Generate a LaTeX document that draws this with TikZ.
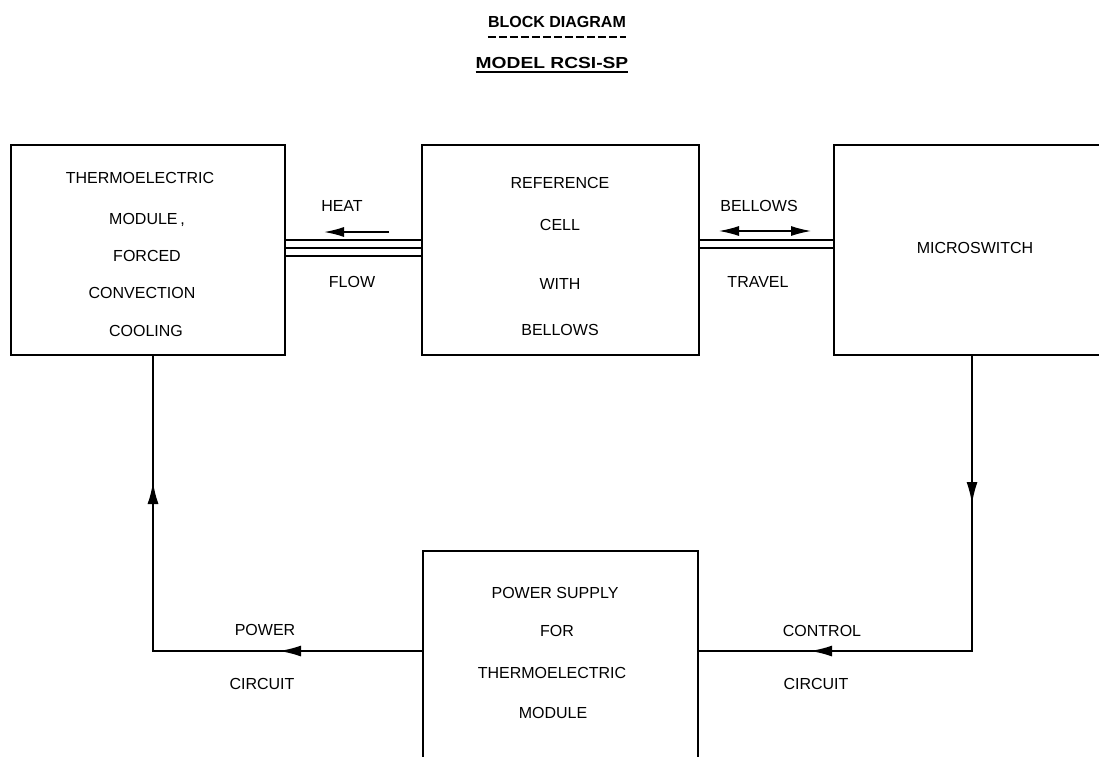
\documentclass[tikz,border=0pt]{standalone}
\usepackage{fontspec}
\usepackage{graphicx}
\setmainfont{Liberation Sans}
\usetikzlibrary{arrows.meta,decorations.markings}
\begin{document}
\begin{tikzpicture}[x=1pt,y=-1pt,
  box/.style={draw,line width=2pt,inner sep=0pt},
  txt/.style={inner sep=0pt,text height=11.5pt,text depth=0pt,font=\fontsize{16}{16}\selectfont},
  ttl/.style={inner sep=0pt,text height=11.5pt,text depth=0pt,font=\bfseries\fontsize{16}{16}\selectfont},
  conn/.style={line width=2pt},
  pipe/.style={line width=1.5pt},
  lat/.tip={Latex[length=22pt,width=11pt]},
  sml/.tip={Latex[length=20pt,width=10pt]}]
\useasboundingbox (0,0) rectangle (1099,756);
\clip (0,0) rectangle (1099,756);

% title
\node[ttl] (title) at (557,22) {BLOCK DIAGRAM};
\draw[line width=2pt,dash pattern=on 8pt off 3pt] ([yshift=-9pt]title.south west) -- ([yshift=-9pt]title.south east);
\node[ttl] (model) at (552,62.5) {\scalebox{1.2}[1]{MODEL RCSI-SP}};
\draw[line width=2pt] ([yshift=-4pt]model.south west) -- ([yshift=-4pt]model.south east);

% boxes
\node[box,minimum width=274pt,minimum height=210pt] (tm) at (148,250) {};
\node[box,minimum width=277pt,minimum height=210pt] (ref) at (560.5,250) {};
\node[box,minimum width=278pt,minimum height=210pt] (ms) at (973,250) {};
\node[box,minimum width=275pt,minimum height=250pt] (ps) at (560.5,676) {};

% box texts
\node[txt] (tm1) at (140,178) {THERMOELECTRIC};
\node[txt] (tm2) at (147,219) {MODULE\,,};
\node[txt] (tm3) at (147,256) {FORCED};
\node[txt] (tm4) at (142,293) {CONVECTION};
\node[txt] (tm5) at (146,331) {COOLING};

\node[txt] (rf1) at (560,183) {REFERENCE};
\node[txt] (rf2) at (560,225) {CELL};
\node[txt] (rf3) at (560,284) {WITH};
\node[txt] (rf4) at (560,330) {BELLOWS};

\node[txt] (ms1) at (975,248) {MICROSWITCH};

\node[txt] (ps1) at (555,593) {POWER SUPPLY};
\node[txt] (ps2) at (557,631) {FOR};
\node[txt] (ps3) at (552,673) {THERMOELECTRIC};
\node[txt] (ps4) at (553,713) {MODULE};

% connector labels
\node[txt] (lh) at (342,206) {HEAT};
\node[txt] (lf) at (352,282) {FLOW};
\node[txt] (lb) at (759,206) {BELLOWS};
\node[txt] (lt) at (758,282) {TRAVEL};
\node[txt] (lp) at (265,630) {POWER};
\node[txt] (lc1) at (262,684) {CIRCUIT};
\node[txt] (lc) at (822,631) {CONTROL};
\node[txt] (lc2) at (816,684) {CIRCUIT};

% heat flow pipe (three lines)
\foreach \s in {10,2,-6}
  \draw[pipe] ([yshift=\s pt]tm.east) -- ([yshift=\s pt]ref.west);
\draw[pipe,-sml] ([xshift=-32pt,yshift=18pt]ref.west) -- ([xshift=38pt,yshift=18pt]tm.east);

% bellows travel (two lines)
\foreach \s in {10,2}
  \draw[pipe] ([yshift=\s pt]ref.east) -- ([yshift=\s pt]ms.west);
\draw[line width=1.2pt,sml-sml] ([xshift=19pt,yshift=19pt]ref.east) -- ([xshift=-22pt,yshift=19pt]ms.west);

% circuits
\coordinate (yl) at (0,651);
\draw[conn,postaction={decorate},decoration={markings,
    mark=at position 143pt with {\arrow{lat}},
    mark=at position 438pt with {\arrow{lat}}}]
  (ps.west |- yl) -| ([xshift=5pt]tm.south);
\draw[conn,postaction={decorate},decoration={markings,
    mark=at position 148pt with {\arrow{lat}},
    mark=at position 457pt with {\arrow{lat}}}]
  ([xshift=-1pt]ms.south) |- (ps.east |- yl);
\end{tikzpicture}
\end{document}
